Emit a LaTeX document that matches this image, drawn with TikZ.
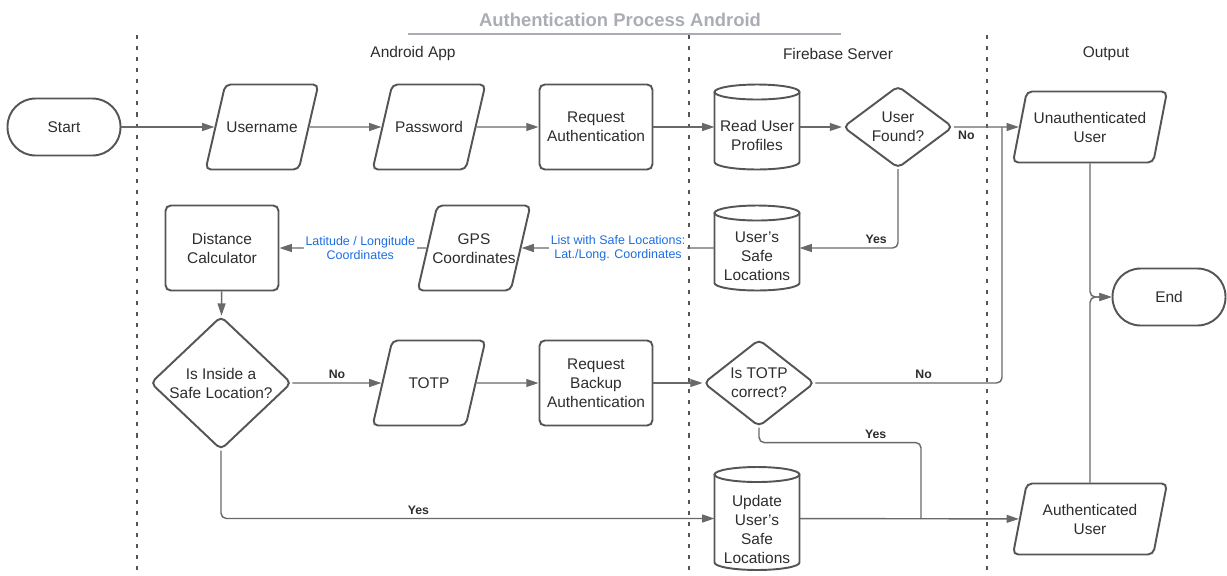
\documentclass[tikz,border=0pt]{standalone}
\usepackage{fontspec}
\setmainfont{Liberation Sans}
\usepackage{tikz}
\usetikzlibrary{arrows.meta,shapes.geometric,positioning,calc}
\definecolor{edgeGray}  {RGB}{85,  85,  85}
\definecolor{flowGray}  {RGB}{105,105,105}
\definecolor{textDark}  {RGB}{45,  45,  45}
\definecolor{coordBlue} {RGB}{30, 110, 225}
\definecolor{titleGray} {RGB}{170,173,180}
\newcommand{\flowfont}{\fontsize{8.8}{10.8}\selectfont}
% caixa de texto de tamanho fixo (paralelogramos) e texto abaixo da tampa (cilindros)
\newcommand{\iotext}[3]{\parbox[c][#2][c]{#1}{\centering
  \makebox[#1]{\raisebox{-1pt}[\height][\depth]{\begin{tabular}{@{}c@{}}#3\end{tabular}}}}}
\newcommand{\dbtext}[2]{\raisebox{-#1}[0.3cm][0.3cm]{\begin{tabular}{@{}c@{}}#2\end{tabular}}}
% contorno do cilindro em volta de um no retangular
\newcommand{\cylout}[1]{%
  \draw[dbline] ($(#1.north west)+(0,7.5)$) -- ($(#1.south west)+(0,-7.5)$)
    arc[start angle=180,end angle=360,x radius=0.85cm,y radius=0.15cm]
    -- ($(#1.north east)+(0,7.5)$);
  \draw[dbline] ($(#1.north)+(0,7.5)$) ellipse[x radius=0.85cm,y radius=0.15cm];}

\begin{document}
\begin{tikzpicture}[x=0.02cm,y=-0.02cm,
    shapebox/.style={draw=edgeGray,line width=1.1pt,text=textDark,font=\flowfont,
                     align=center,rounded corners=3pt,inner sep=1pt},
    procbox/.style={shapebox,rectangle,minimum width=2.26cm,minimum height=1.7cm},
    iobox/.style={shapebox,trapezium,trapezium left angle=77,trapezium right angle=103,
                  trapezium stretches body,inner sep=0pt},
    outbox/.style={iobox,trapezium left angle=79,trapezium right angle=101},
    dbbox/.style={rectangle,text=textDark,font=\flowfont,align=center,inner sep=1pt,
                  outer sep=0pt,minimum width=1.7cm,minimum height=1.7cm},
    dbline/.style={draw=edgeGray,line width=1.1pt},
    decbox/.style={shapebox,diamond,inner sep=0pt},
    termbox/.style={shapebox,rectangle,rounded corners=0.56cm,
                    minimum width=2.26cm,minimum height=1.14cm},
    flowline/.style={draw=flowGray,line width=0.8pt,rounded corners=3pt},
    flowarrow/.style={flowline,-{Triangle[length=7pt,width=4.5pt]}},
    ynlabel/.style={font=\bfseries\fontsize{7}{8}\selectfont,text=textDark,inner sep=2pt},
    coordlabel/.style={font=\fontsize{7.1}{7.8}\selectfont,text=coordBlue,align=center,
                       fill=white,inner sep=1pt},
    lanehead/.style={font=\flowfont,text=textDark},
    laneline/.style={draw=edgeGray,line width=1.1pt,dash pattern=on 2.3pt off 4pt}]
  \useasboundingbox (0,0) rectangle (1227,575);

  % Titulo e raias
  \node[font=\bfseries\fontsize{10.5}{12}\selectfont,text=titleGray] (title) at (620,20)
    {Authentication Process Android};
  \draw[titleGray,line width=0.9pt] (408,34) -- (841,34);
  \foreach \lx in {137,689,987}{
    \draw[laneline] (\lx,35) -- (\lx,575);
  }
  \node[lanehead] (hApp) at (413,54) {Android App};
  \node[lanehead] (hFire) at (838,54) {Firebase Server};
  \node[lanehead] (hOut) at (1106,54) {Output};

  % Linha 1
  \node[termbox] (start) at (64,127) {Start};
  \node[iobox] (user) at (262,127) {\iotext{1.47cm}{1.7cm}{Username}};
  \node[iobox] (pass) at (429,127) {\iotext{1.47cm}{1.7cm}{Password}};
  \node[procbox] (reqAuth) at (596,127) {Request\\Authentication};
  \node[dbbox] (readProf) at (757,127) {\dbtext{0.28cm}{Read User\\Profiles}};
  \node[decbox,minimum width=2.2cm,minimum height=1.64cm] (found) at (898,127) {User\\Found?};
  \node[outbox] (unauth) at (1090,127) {\iotext{2.53cm}{1.42cm}{Unauthenticated\\User}};

  % Linha 2
  \node[dbbox] (safeLoc) at (757,248) {\dbtext{0.28cm}{User's\\Safe\\Locations}};
  \node[iobox] (gps) at (474,248) {\iotext{1.47cm}{1.7cm}{GPS\\Coordinates}};
  \node[procbox] (distCalc) at (222,248) {Distance\\Calculator};
  \node[termbox] (end) at (1169,297) {End};

  % Linha 3
  \node[decbox,minimum width=2.82cm,minimum height=2.22cm] (inside) at (221,383)
    {Is Inside a\\Safe Location?};
  \node[iobox] (totp) at (429,383) {\iotext{1.47cm}{1.7cm}{TOTP}};
  \node[procbox] (reqBackup) at (596,383) {Request\\Backup\\Authentication};
  \node[decbox,minimum width=2.22cm,minimum height=1.68cm] (totpOk) at (759,383)
    {Is TOTP\\correct?};

  % Linha 4
  \node[dbbox,minimum height=2.06cm] (update) at (757,518.5)
    {\dbtext{0.34cm}{Update\\User's\\Safe\\Locations}};
  \node[outbox] (auth) at (1090,519) {\iotext{2.53cm}{1.42cm}{Authenticated\\User}};

  % Cilindros
  \foreach \db in {readProf,safeLoc,update}{
    \cylout{\db}
  }

  % Pontos de juncao
  \coordinate (joinNo) at (1002,127);
  \coordinate (joinYes) at (921,519);

  % Conectores
  \draw[flowarrow] (start) -- (user);
  \draw[flowarrow] (user) -- (pass);
  \draw[flowarrow] (pass) -- (reqAuth);
  \draw[flowarrow] (reqAuth) -- (readProf);
  \draw[flowarrow] (readProf) -- (found);
  \draw[flowarrow] (found.east) -- node[ynlabel,pos=0,anchor=north west] {No} (unauth);
  \draw[flowarrow] (found.south) |- node[ynlabel,pos=0.5,above left,xshift=-4pt] {Yes}
    (safeLoc.east);
  \draw[flowarrow] (safeLoc) -- node[coordlabel,midway]
    {List with Safe Locations:\\Lat./Long. Coordinates} (gps);
  \draw[flowarrow] (gps) -- node[coordlabel,pos=0.45]
    {Latitude / Longitude\\Coordinates} (distCalc);
  \draw[flowarrow] (distCalc) -- (inside);
  \draw[flowarrow] (inside.east) -- node[ynlabel,midway,above] {No} (totp);
  \draw[flowarrow] (totp) -- (reqBackup);
  \draw[flowarrow] (reqBackup) -- (totpOk);
  \draw[flowline] (totpOk.east) -| node[ynlabel,pos=0.29,above] {No} (joinNo);
  \draw[flowline] (totpOk.south) -- ++(0,15) -| node[ynlabel,pos=0.36,above] {Yes} (joinYes);
  \draw[flowarrow] (inside.south) |- node[ynlabel,pos=0.7,above] {Yes} (update.west);
  \draw[flowarrow] (update) -- (auth);
  \draw[flowarrow] (unauth.south) |- (end.west);
  \draw[flowarrow] (auth.north) |- (end.west);
\end{tikzpicture}
\end{document}
